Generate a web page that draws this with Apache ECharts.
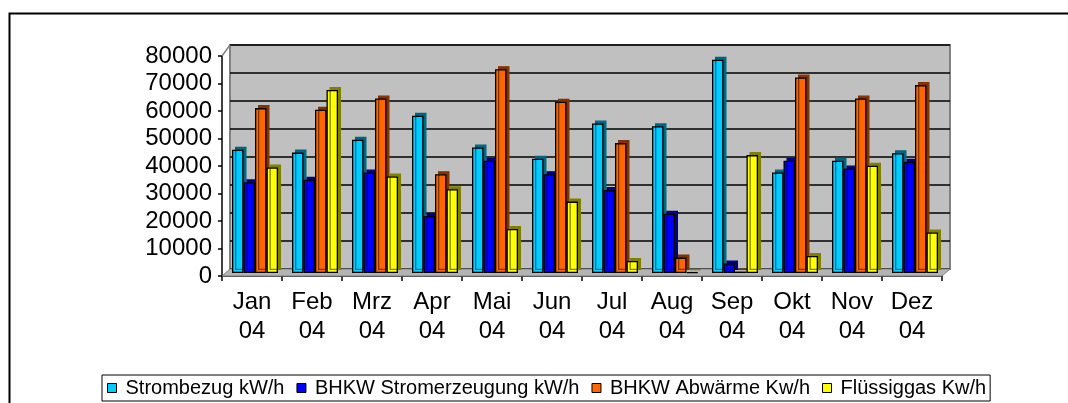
<!DOCTYPE html>
<html>
<head>
<meta charset="utf-8">
<script src="https://cdn.jsdelivr.net/npm/echarts@6/dist/echarts.min.js"></script>
<style>
  html, body { margin: 0; padding: 0; background: #fff; }
  #chart { width: 1068px; height: 403px; }
</style>
</head>
<body>
<div id="chart"></div>
<script>
// months and values
var monate = ['Jan\n04', 'Feb\n04', 'Mrz\n04', 'Apr\n04', 'Mai\n04', 'Jun\n04',
              'Jul\n04', 'Aug\n04', 'Sep\n04', 'Okt\n04', 'Nov\n04', 'Dez\n04'];
var yTicks = [0, 10000, 20000, 30000, 40000, 50000, 60000, 70000, 80000];
var strombezug  = [44000, 43000, 47600, 56200, 44800, 40800, 53400, 52400, 76200, 35900, 40100, 42800];
var bhkwStrom   = [32400, 33300, 35900, 20400, 40100, 35300, 29600, 21200, 3400, 40100, 37300, 39700];
var abwaerme    = [58900, 58300, 62300, 35300, 72800, 61200, 46400, 5500, 500, 69800, 62300, 67100];
var fluessiggas = [37700, 65400, 34500, 29900, 15700, 25500, 4300, 200, 42100, 6100, 38300, 14500];

var namen = ['Strombezug kW/h', 'BHKW Stromerzeugung kW/h', 'BHKW Abwärme Kw/h', 'Flüssiggas Kw/h'];
var farben = ['#00ccff', '#0000ff', '#ff6600', '#ffff00'];
var seiten = ['#006680', '#000080', '#803300', '#808000'];
var werte = [strombezug, bhkwStrom, abwaerme, fluessiggas];

var dom = document.getElementById('chart');
var myChart = echarts.init(dom);

var serien = [];
for (var i = 0; i < 4; i++) {
  serien.push({
    name: namen[i],
    type: 'bar',
    xAxisIndex: 1,
    yAxisIndex: 1,
    data: werte[i],
    barWidth: 11.5,
    barGap: '0%',
    animation: false,
    itemStyle: {
      color: farben[i],
      borderColor: '#000',
      borderWidth: 1.3,
      shadowColor: seiten[i],
      shadowBlur: 0,
      shadowOffsetX: 3,
      shadowOffsetY: -3
    }
  });
}

var legendDaten = namen.map(function (n, k) {
  return {
    name: n,
    itemStyle: { color: farben[k], borderColor: '#000', borderWidth: 1,
                 shadowBlur: 0, shadowOffsetX: 0, shadowOffsetY: 0, shadowColor: 'transparent' }
  };
});

var option = {
  backgroundColor: '#fff',
  animation: false,
  textStyle: { fontFamily: 'Liberation Sans, Arial, sans-serif' },
  graphic: [
    // Rahmen
    { type: 'rect', left: 7, top: 11, z: 0,
      shape: { width: 1120, height: 500 },
      style: { fill: null, stroke: '#000', lineWidth: 2 } },
    // Boden
    { type: 'polygon', z: 1,
      shape: { points: [[222, 276], [942, 276], [950, 269], [230, 269]] },
      style: { fill: '#b4b4b4', stroke: '#808080', lineWidth: 1 } },
    // linke Wand Kante
    { type: 'polyline', z: 1,
      shape: { points: [[222, 56], [230, 45]] },
      style: { stroke: '#808080', lineWidth: 1.5 } }
  ],
  legend: {
    left: 102,
    top: 375,
    data: legendDaten,
    icon: 'rect',
    itemWidth: 9,
    itemHeight: 9,
    itemGap: 12,
    padding: [3, 4, 3, 5],
    borderColor: '#000',
    borderWidth: 1,
    textStyle: { fontSize: 20, color: '#000', padding: [0, 0, 0, 4] }
  },
  grid: [
    // Rückwand
    { left: 230, top: 45, width: 720, height: 224, show: true,
      backgroundColor: '#c0c0c0', borderColor: '#808080', borderWidth: 2 },
    // Säulen
    { left: 225, top: 49, width: 720, height: 224 },
    // vordere Achsen
    { left: 222, top: 56, width: 720, height: 220 }
  ],
  xAxis: [
    { type: 'category', gridIndex: 0, data: monate, show: false },
    { type: 'category', gridIndex: 1, data: monate, show: false, boundaryGap: true },
    { type: 'category', gridIndex: 2, data: monate,
      axisLine: { lineStyle: { color: '#000', width: 1.5 } },
      axisTick: { show: true, length: 5, lineStyle: { color: '#000', width: 1.5 } },
      axisLabel: { fontSize: 24, color: '#000', lineHeight: 29, margin: 12 } }
  ],
  yAxis: [
    { type: 'value', gridIndex: 0, min: 0, max: 80000, interval: 10000,
      axisLine: { show: false }, axisTick: { show: false }, axisLabel: { show: false },
      splitLine: { show: true, lineStyle: { color: '#000', width: 1.5 } } },
    { type: 'value', gridIndex: 1, min: 0, max: 80000, interval: 10000, show: false,
      splitLine: { show: false } },
    { type: 'value', gridIndex: 2, min: 0, max: 80000, interval: 10000,
      axisLine: { show: true, lineStyle: { color: '#000', width: 1.5 } },
      axisTick: { show: true, length: 4, lineStyle: { color: '#000', width: 1.5 } },
      splitLine: { show: false },
      axisLabel: { fontSize: 24, color: '#000', margin: 10,
        formatter: function (v) { return yTicks.indexOf(v) >= 0 ? String(v) : ''; } } }
  ],
  series: serien
};

myChart.setOption(option, true);
window.onresize = function () {
  myChart.resize();
};
</script>
</body>
</html>
